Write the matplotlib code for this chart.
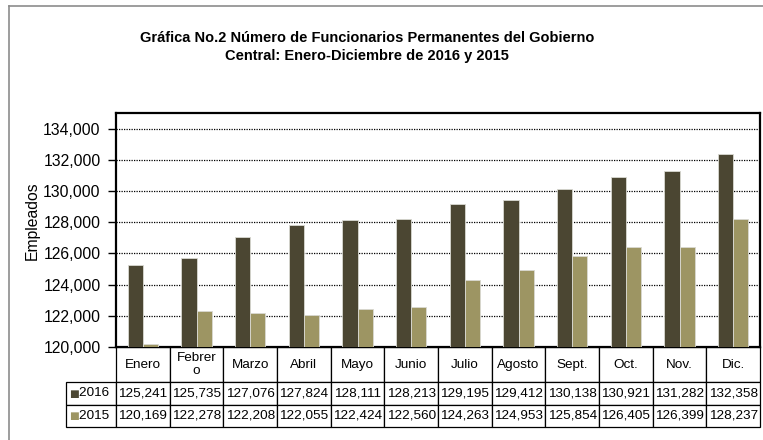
import matplotlib
matplotlib.use('Agg')
import matplotlib.pyplot as plt
import matplotlib.ticker as ticker
from matplotlib.lines import Line2D
import numpy as np

plt.rcParams['font.family'] = ['Liberation Sans', 'DejaVu Sans']

months = ['Enero', 'Febrer\no', 'Marzo', 'Abril', 'Mayo', 'Junio', 'Julio',
          'Agosto', 'Sept.', 'Oct.', 'Nov.', 'Dic.']
values_2016 = [125241, 125735, 127076, 127824, 128111, 128213, 129195,
               129412, 130138, 130921, 131282, 132358]
values_2015 = [120169, 122278, 122208, 122055, 122424, 122560, 124263,
               124953, 125854, 126405, 126399, 128237]
series_names = ['2016', '2015']

DARK = '#4b4632'
LIGHT = '#9d9563'

AX_W, AX_H = 644, 234  # axes size in pixels
fig = plt.figure(figsize=(7.63, 4.40), dpi=100)
ax = fig.add_axes([116 / 763, 1 - 347 / 440, AX_W / 763, AX_H / 440])

x = np.arange(len(months))
w = 0.285
ax.bar(x - w / 2, values_2016, w, color=DARK, edgecolor='#d9d9d2', linewidth=0.6, zorder=3)
ax.bar(x + w / 2, values_2015, w, color=LIGHT, edgecolor='#d9d9d2', linewidth=0.6, zorder=3)

ax.set_xlim(-0.5, len(months) - 0.5)
ax.set_ylim(120000, 135000)
ax.set_yticks(np.arange(120000, 134001, 2000))
ax.yaxis.set_major_formatter(ticker.FuncFormatter(lambda v, p: f'{int(v):,}'))
ax.tick_params(axis='y', labelsize=11.3, length=6, width=1, pad=5)
ax.set_xticks([])
ax.grid(axis='y', color='black', linestyle=(0, (1, 1)), linewidth=0.9, zorder=0)
for s in ax.spines.values():
    s.set_linewidth(1.6)
ax.set_ylabel('Empleados', fontsize=11.3)
ax.yaxis.set_label_coords(-0.118, 0.54)

# data table under the plot, sizes in axes units
label_w = 50 / AX_W
tab = ax.table(cellText=[[f'{v:,}' for v in values_2016], [f'{v:,}' for v in values_2015]],
               rowLabels=[n + ' ' for n in series_names], colLabels=months,
               cellLoc='center', rowLoc='right',
               bbox=[0, -80 / AX_H, 1, 80 / AX_H])
# the row label column is auto-sized by default; keep our fixed width instead
if hasattr(tab, '_autoColumns'):
    tab._autoColumns = [c for c in tab._autoColumns if c != -1]
tab.auto_set_font_size(False)
tab.set_fontsize(9.7)
for (r, c), cell in tab.get_celld().items():
    cell.set_linewidth(0.9)
    cell.set_height((35 if r == 0 else 22.5) / AX_H)
    cell.set_width(label_w if c == -1 else 1 / len(months))
    cell.PAD = 0.06 if c == -1 else 0.02

# legend keys in the row label cells
for i, col in enumerate([DARK, LIGHT]):
    fig.text(74 / 763, 1 - (393.5 + i * 22.5) / 440, '\u25a0', color=col, fontsize=7.5,
             va='center', ha='center', family='DejaVu Sans')

fig.text(367 / 763, 1 - 38 / 440, 'Gráfica No.2 Número de Funcionarios Permanentes del Gobierno',
         ha='center', va='center', fontsize=10.5, fontweight='bold')
fig.text(367 / 763, 1 - 56 / 440, 'Central: Enero-Diciembre de 2016 y 2015',
         ha='center', va='center', fontsize=10.5, fontweight='bold')

# outer chart frame (top and left only visible)
fig.add_artist(Line2D([9 / 763, 1], [1 - 6 / 440, 1 - 6 / 440], color='#8c8c8c', linewidth=1.2))
fig.add_artist(Line2D([9 / 763, 9 / 763], [0, 1 - 6 / 440], color='#8c8c8c', linewidth=1.2))

fig.savefig('out.png', dpi=100)
